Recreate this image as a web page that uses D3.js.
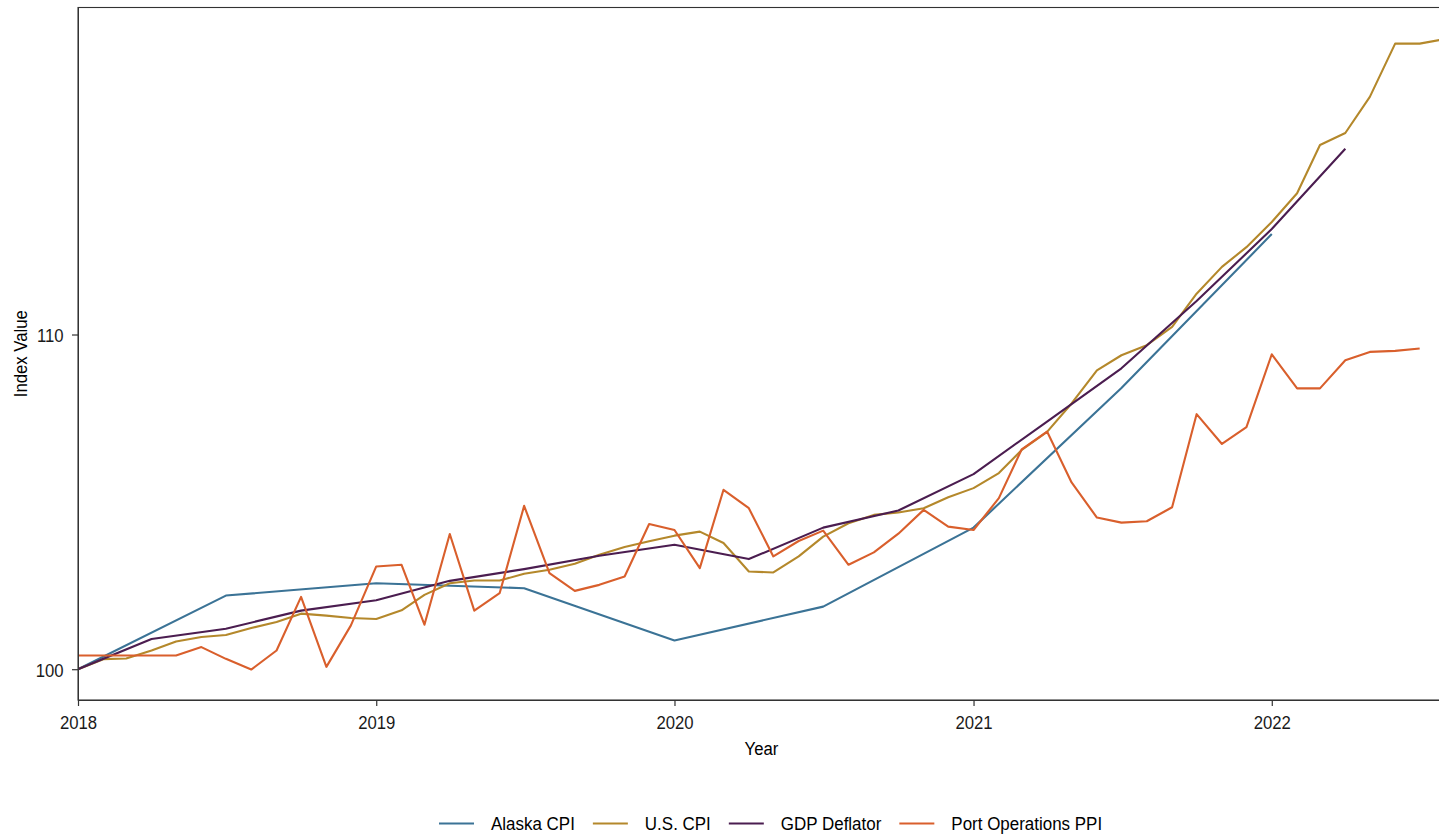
<!DOCTYPE html>
<html>
<head>
<meta charset="utf-8">
<script src="https://cdn.jsdelivr.net/npm/d3@7"></script>
<style>
  html, body { margin: 0; padding: 0; background: #fff; overflow: hidden; }
  svg { display: block; font-family: "Liberation Sans", Arial, sans-serif; }
</style>
</head>
<body>
<svg id="chart" width="1439" height="835"></svg>
<script>
// ---- Data ----
const seriesNames = ["Alaska CPI", "U.S. CPI", "GDP Deflator", "Port Operations PPI"];
const seriesColors = ["#3b7396", "#b4882b", "#4b1d50", "#d95f2c"];

// Alaska CPI (semi-annual)
const alaskaDates = ["2018-01","2018-07","2019-01","2019-07","2020-01","2020-07","2021-01","2021-07","2022-01"];
const alaskaValues = [100, 102.2, 102.57, 102.42, 100.86, 101.87, 104.23, 108.4, 113.0];

// U.S. CPI (monthly, Jan 2018 - Aug 2022)
const usCpiStart = "2018-01";
const usCpiValues = [
  100, 100.30, 100.32, 100.56, 100.83, 100.96, 101.02, 101.23, 101.41, 101.66, 101.60, 101.53,
  101.50, 101.76, 102.22, 102.57, 102.65, 102.65, 102.85, 102.97, 103.15, 103.42, 103.65, 103.82,
  103.99, 104.11, 103.77, 102.92, 102.89, 103.37, 103.96, 104.36, 104.61, 104.68, 104.81, 105.14,
  105.41, 105.86, 106.55, 107.09, 107.94, 108.93, 109.38, 109.68, 110.23, 111.22, 112.02, 112.61,
  113.36, 114.22, 115.66, 116.02, 117.10, 118.69, 118.69, 118.83
];

// GDP Deflator (quarterly, Q1 2018 - Q2 2022)
const gdpStart = "2018-01";
const gdpValues = [
  100, 100.90, 101.21, 101.75,
  102.06, 102.64, 102.99, 103.39,
  103.72, 103.29, 104.23, 104.74,
  105.83, 107.40, 108.99, 111.00,
  113.15, 115.55
];

// Port Operations PPI (monthly, Jan 2018 - Jul 2022)
const ppiStart = "2018-01";
const ppiValues = [
  100.41, 100.41, 100.41, 100.41, 100.41, 100.66, 100.31, 99.99, 100.56, 102.16, 100.07, 101.31,
  103.07, 103.12, 101.33, 104.04, 101.75, 102.27, 104.88, 102.87, 102.34, 102.52, 102.77, 104.34,
  104.16, 103.02, 105.36, 104.81, 103.37, 103.83, 104.14, 103.12, 103.49, 104.05, 104.76, 104.26,
  104.16, 105.11, 106.57, 107.10, 105.58, 104.53, 104.38, 104.42, 104.84, 107.62, 106.73, 107.23,
  109.41, 108.39, 108.39, 109.23, 109.48, 109.51, 109.58
];

const xTickYears = [2018, 2019, 2020, 2021, 2022];
const yTickValues = [100, 110];
const xDomain = ["2018-01-01", "2022-08-01"];
const yDomain = [99.08, 119.77];

// ---- Build series ----
const parseMonth = d3.timeParse("%Y-%m");
function seq(start, values, stepMonths) {
  const s = parseMonth(start);
  return values.map((v, i) => ({ date: d3.timeMonth.offset(s, i * stepMonths), value: v }));
}
const series = [
  alaskaDates.map((d, i) => ({ date: parseMonth(d), value: alaskaValues[i] })),
  seq(usCpiStart, usCpiValues, 1),
  seq(gdpStart, gdpValues, 3),
  seq(ppiStart, ppiValues, 1)
];

// ---- Layout ----
const svg = d3.select("#chart");
const mL = 78, mR = 1445, mT = 7.5, mB = 700;
const FS = 19, SX = 0.88;       // axis text size and horizontal condensing
const LFS = 17.5, LSX = 0.97;   // legend text

const x = d3.scaleTime().domain(xDomain.map(d => new Date(d + "T00:00:00"))).range([mL, mR]);
const y = d3.scaleLinear().domain(yDomain).range([mB, mT]);

svg.append("defs").append("clipPath").attr("id", "clip")
  .append("rect").attr("x", mL).attr("y", mT).attr("width", mR - mL).attr("height", mB - mT);

// lines
const line = d3.line().x(d => x(d.date)).y(d => y(d.value));
const g = svg.append("g").attr("clip-path", "url(#clip)");
series.forEach((s, i) => {
  g.append("path").datum(s)
    .attr("fill", "none")
    .attr("stroke", seriesColors[i])
    .attr("stroke-width", 2.1)
    .attr("stroke-linejoin", "round")
    .attr("d", line);
});

// panel border
svg.append("rect").attr("x", mL).attr("y", mT).attr("width", mR - mL).attr("height", mB - mT)
  .attr("fill", "none").attr("stroke", "#333").attr("stroke-width", 1.1);

// x axis
const xAxis = d3.axisBottom(x)
  .tickValues(xTickYears.map(yv => new Date(yv, 0, 1)))
  .tickFormat(d3.timeFormat("%Y"))
  .tickSize(6).tickSizeOuter(0);
const gx = svg.append("g").attr("transform", `translate(0,${mB})`).call(xAxis);
gx.select(".domain").attr("stroke", "#333");
gx.selectAll(".tick line").attr("stroke", "#333").attr("stroke-width", 1.2);
gx.selectAll(".tick text")
  .attr("y", 29).attr("dy", 0)
  .attr("font-size", FS).attr("fill", "#1a1a1a")
  .attr("font-family", "Liberation Sans, Arial, sans-serif")
  .attr("transform", `scale(${SX},1)`);

// y axis
const yAxis = d3.axisLeft(y).tickValues(yTickValues).tickFormat(d3.format("d"))
  .tickSize(6).tickSizeOuter(0);
const gy = svg.append("g").attr("transform", `translate(${mL},0)`).call(yAxis);
gy.select(".domain").attr("stroke", "#333");
gy.selectAll(".tick line").attr("stroke", "#333").attr("stroke-width", 1.2);
gy.selectAll(".tick text")
  .attr("x", -14.5 / SX).attr("dy", "0.36em")
  .attr("font-size", FS).attr("fill", "#1a1a1a")
  .attr("font-family", "Liberation Sans, Arial, sans-serif")
  .attr("transform", `scale(${SX},1)`);

// axis titles
svg.append("g").attr("transform", `translate(761.5,755) scale(${SX},1)`)
  .append("text").attr("text-anchor", "middle").attr("font-size", FS).attr("fill", "#000").text("Year");
svg.append("g").attr("transform", `translate(26.5,${(mT + mB) / 2}) rotate(-90) scale(${SX},1)`)
  .append("text").attr("text-anchor", "middle").attr("font-size", FS).attr("fill", "#000").text("Index Value");

// legend
const legLineY = 823.5, legTextY = 830;
const leg = svg.append("g");
let xpos = 439;
seriesNames.forEach((name, i) => {
  leg.append("line").attr("x1", xpos).attr("x2", xpos + 35).attr("y1", legLineY).attr("y2", legLineY)
    .attr("stroke", seriesColors[i]).attr("stroke-width", 2.1);
  const tg = leg.append("g").attr("transform", `translate(${xpos + 52},${legTextY}) scale(${LSX},1)`);
  const t = tg.append("text").attr("font-size", LFS).attr("fill", "#000").text(name);
  const tw = t.node().getComputedTextLength() * LSX;
  xpos = xpos + 52 + tw + 18;
});
</script>
</body>
</html>
